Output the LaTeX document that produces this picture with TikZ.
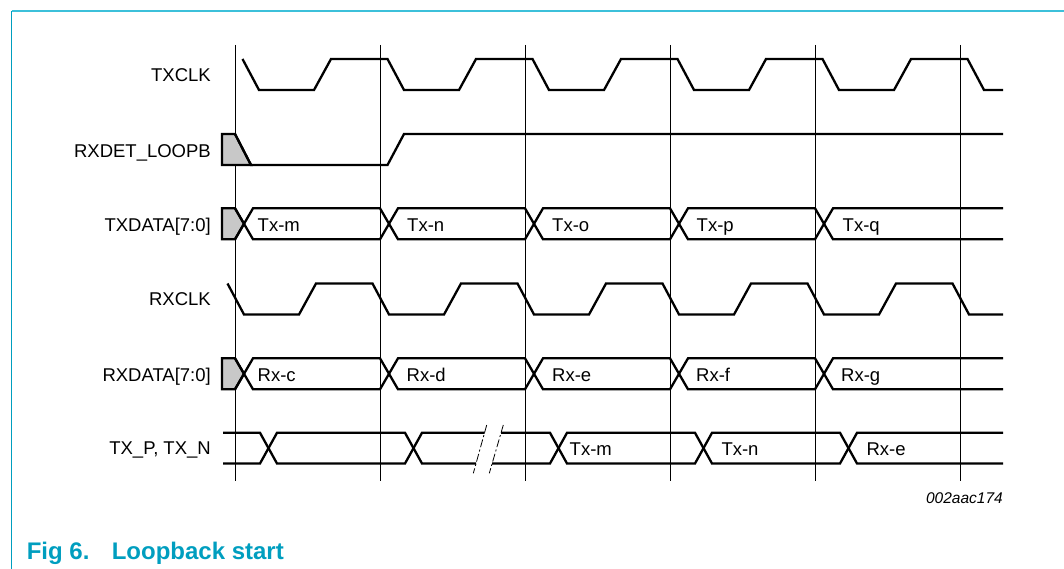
\documentclass[tikz,border=0pt]{standalone}
\usepackage{fontspec}
\setmainfont{Liberation Sans}
\definecolor{nxpteal}{HTML}{009EBF}
\definecolor{framecyan}{HTML}{3CC0DA}
\definecolor{boxgray}{HTML}{C8C8C8}
\tikzset{
  sig/.style={line width=2.3pt, black},
  gridline/.style={line width=0.9pt, black},
  lbl/.style={anchor=base east, inner sep=0pt, font=\fontsize{18.5}{20}\selectfont},
  dlbl/.style={anchor=base west, inner sep=0pt, font=\fontsize{18.5}{20}\selectfont},
  graybox/.style={fill=boxgray, draw=black, line width=2.3pt},
  brk/.style={line width=0.8pt, black, dash pattern=on 8pt off 2.5pt on 2pt off 2.5pt},
}
\newcommand\busrow[2]{%
  \draw[graybox] (222,#1) -- (235,#1) -- (244,{(#1+#2)/2}) -- (235,#2) -- (222,#2) -- cycle;
  \draw[sig] (235,#1) -- (253,#2) -- (380,#2) -- (398,#1) -- (525,#1) -- (543,#2) -- (670,#2) -- (688,#1) -- (815,#1) -- (833,#2) -- (1003,#2);
  \draw[sig] (235,#2) -- (253,#1) -- (380,#1) -- (398,#2) -- (525,#2) -- (543,#1) -- (670,#1) -- (688,#2) -- (815,#2) -- (833,#1) -- (1003,#1);
}
\begin{document}
\begin{tikzpicture}[x=1pt,y=-1pt]
\useasboundingbox (0,0) rectangle (1064,569);
% frame
\draw[framecyan, line width=1.6pt] (11.7,11) -- (1064,11);
\draw[nxpteal, line width=1.4pt] (11.7,11) -- (11.7,569);
% grid lines
\foreach \k in {0,...,5}
  \draw[gridline] ({235+145*\k},45) -- ({235+145*\k},481);
% labels
\node[lbl] (lTXCLK) at (211,81.7) {TXCLK};
\node[lbl] (lRXDET) at (211,157.3) {RXDET\_LOOPB};
\node[lbl] (lTXDATA) at (211,231.5) {TXDATA[7:0]};
\node[lbl] (lRXCLK) at (211,305.7) {RXCLK};
\node[lbl] (lRXDATA) at (211,381) {RXDATA[7:0]};
\node[lbl] (lTXP) at (211,454.5) {TX\_P, TX\_N};
% TXCLK
\draw[sig] (242.5,59) \foreach \k in {0,...,4}{ -- ({259+145*\k},90) -- ({314+145*\k},90) -- ({331+145*\k},59) -- ({387.5+145*\k},59) } -- (984,90) -- (1003,90);
% RXDET_LOOPB
\draw[graybox] (222,134) -- (235,134) -- (251,165) -- (222,165) -- cycle;
\draw[sig] (235,134) -- (251,165) -- (387.5,165) -- (404,134) -- (1003,134);
% TXDATA
\busrow{208.3}{239.3}
\node[dlbl] (txm) at (257.5,231.5) {Tx-m};
\node[dlbl] (txn) at (407,231.5) {Tx-n};
\node[dlbl] (txo) at (552,231.5) {Tx-o};
\node[dlbl] (txp) at (696.5,231.5) {Tx-p};
\node[dlbl] (txq) at (842.5,231.5) {Tx-q};
% RXCLK
\draw[sig] (227.5,283.5) \foreach \k in {0,...,4}{ -- ({244+145*\k},314.5) -- ({299+145*\k},314.5) -- ({316+145*\k},283.5) -- ({372.5+145*\k},283.5) } -- (969,314.5) -- (1003,314.5);
% RXDATA
\busrow{358.3}{389.3}
\node[dlbl] (rxc) at (257.5,381) {Rx-c};
\node[dlbl] (rxd) at (406.5,381) {Rx-d};
\node[dlbl] (rxe) at (552,381) {Rx-e};
\node[dlbl] (rxf) at (696,381) {Rx-f};
\node[dlbl] (rxg) at (841,381) {Rx-g};
% TX_P, TX_N
\draw[sig] (223,432.8) -- (260,432.8) -- (277,463.5) -- (405,463.5) -- (422,432.8) -- (484.5,432.8);
\draw[sig] (501,432.8) -- (550,432.8) -- (567,463.5) -- (695,463.5) -- (712,432.8) -- (840,432.8) -- (857,463.5) -- (1003,463.5);
\draw[sig] (223,463.5) -- (260,463.5) -- (277,432.8) -- (405,432.8) -- (422,463.5) -- (476,463.5);
\draw[sig] (492,463.5) -- (550,463.5) -- (567,432.8) -- (695,432.8) -- (712,463.5) -- (840,463.5) -- (857,432.8) -- (1003,432.8);
\draw[brk] (486.7,425) -- (473.3,473.3);
\draw[brk] (503.3,425) -- (489.3,473.3);
\node[dlbl] (ptxm) at (569.5,455) {Tx-m};
\node[dlbl] (ptxn) at (721.3,455) {Tx-n};
\node[dlbl] (prxe) at (866.3,455) {Rx-e};
% code and caption
\node[anchor=base east, inner sep=0pt, font=\itshape\fontsize{15.5}{17}\selectfont] (code) at (1003,503) {002aac174};
\node[anchor=base west, inner sep=0pt, text=nxpteal, font=\bfseries\fontsize{24}{26}\selectfont] (figno) at (26.6,559.3) {Fig 6.};
\node[anchor=base west, inner sep=0pt, text=nxpteal, font=\bfseries\fontsize{24}{26}\selectfont] (figtitle) at (111.6,559.3) {Loopback start};
\end{tikzpicture}
\end{document}
